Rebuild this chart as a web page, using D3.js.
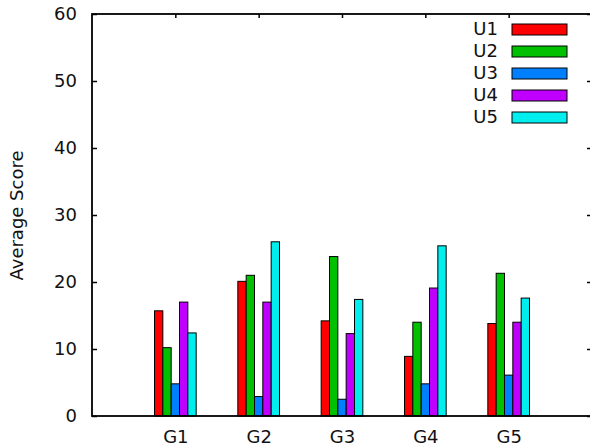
<!DOCTYPE html>
<html>
<head>
<meta charset="utf-8">
<script src="https://cdn.jsdelivr.net/npm/d3@7"></script>
<style>
  html, body { margin: 0; padding: 0; background: #fff; }
  svg { display: block; }
  text { font-family: "DejaVu Sans", sans-serif; fill: #111; }
</style>
</head>
<body>
<svg id="chart" width="590" height="448"></svg>
<script>
// Groups along the x axis
const groups = ["G1", "G2", "G3", "G4", "G5"];
// Series names (one bar per series in each group)
const seriesNames = ["U1", "U2", "U3", "U4", "U5"];
const seriesColors = ["#ff0000", "#00c000", "#0080ff", "#c000ff", "#00eeee"];
// Average scores, one array per series, in group order
const u1 = [15.7, 20.1, 14.2, 8.9, 13.8];
const u2 = [10.2, 21.0, 23.8, 14.0, 21.3];
const u3 = [4.8, 2.9, 2.5, 4.8, 6.1];
const u4 = [17.0, 17.0, 12.3, 19.1, 14.0];
const u5 = [12.4, 26.0, 17.4, 25.4, 17.6];
const yTicks = [0, 10, 20, 30, 40, 50, 60];

const series = [u1, u2, u3, u4, u5];

const svg = d3.select("#chart");
const plotL = 92, plotR = 592, plotT = 14, plotB = 416;
const fontSize = 18;

// group index runs 0..4 on a range padded by one unit each side
const x = d3.scaleLinear().domain([-1, groups.length]).range([plotL, plotR]);
const y = d3.scaleLinear().domain([0, 60]).range([plotB, plotT]);
const barW = 0.1; // in group units
const nS = series.length;

// bars
series.forEach((vals, si) => {
  svg.append("g").selectAll("rect")
    .data(vals)
    .join("rect")
    .attr("x", (d, gi) => x(gi - (nS * barW) / 2 + si * barW))
    .attr("y", d => y(d))
    .attr("width", x(barW) - x(0))
    .attr("height", d => y(0) - y(d))
    .attr("fill", seriesColors[si])
    .attr("stroke", "#000")
    .attr("stroke-width", 1);
});

// left axis with inward ticks
const yAxis = d3.axisLeft(y).tickValues(yTicks).tickSize(-5).tickPadding(15);
const gy = svg.append("g").attr("transform", `translate(${plotL},0)`).call(yAxis);
gy.select(".domain").remove();
gy.selectAll(".tick line").attr("stroke", "#000").attr("stroke-width", 1.5);
gy.selectAll(".tick text").attr("font-size", fontSize).attr("font-family", "DejaVu Sans").attr("fill", "#111").attr("dy", "0.3em");

// mirrored ticks on the right side
const yAxisR = d3.axisRight(y).tickValues(yTicks).tickSize(-5).tickFormat("");
const gyr = svg.append("g").attr("transform", `translate(${plotR},0)`).call(yAxisR);
gyr.select(".domain").remove();
gyr.selectAll(".tick line").attr("stroke", "#000").attr("stroke-width", 1.5);

// bottom axis labels
const xAxis = d3.axisBottom(x).tickValues(d3.range(groups.length)).tickFormat(i => groups[i]).tickSize(0).tickPadding(14);
const gx = svg.append("g").attr("transform", `translate(0,${plotB})`).call(xAxis);
gx.select(".domain").remove();
gx.selectAll(".tick text").attr("font-size", fontSize).attr("font-family", "DejaVu Sans").attr("fill", "#111");

// mirrored ticks along the top
const xAxisT = d3.axisTop(x).tickValues(d3.range(groups.length)).tickSize(-4).tickFormat("");
const gxt = svg.append("g").attr("transform", `translate(0,${plotT})`).call(xAxisT);
gxt.select(".domain").remove();
gxt.selectAll(".tick line").attr("stroke", "#000").attr("stroke-width", 1.5);

// frame
svg.append("rect")
  .attr("x", plotL).attr("y", plotT)
  .attr("width", plotR - plotL).attr("height", plotB - plotT)
  .attr("fill", "none").attr("stroke", "#000").attr("stroke-width", 1.8);

// y axis title
svg.append("text")
  .attr("transform", `translate(23,215.5) rotate(-90)`)
  .attr("text-anchor", "middle")
  .attr("font-size", fontSize)
  .text("Average Score");

// legend
const leg = svg.append("g");
seriesNames.forEach((name, i) => {
  const cy = 29.5 + i * 22;
  leg.append("text")
    .attr("x", 498).attr("y", cy).attr("dy", "0.33em")
    .attr("text-anchor", "end").attr("font-size", fontSize)
    .text(name);
  leg.append("rect")
    .attr("x", 512).attr("y", cy - 5.5)
    .attr("width", 55).attr("height", 11)
    .attr("fill", seriesColors[i])
    .attr("stroke", "#000").attr("stroke-width", 1);
});
</script>
</body>
</html>
